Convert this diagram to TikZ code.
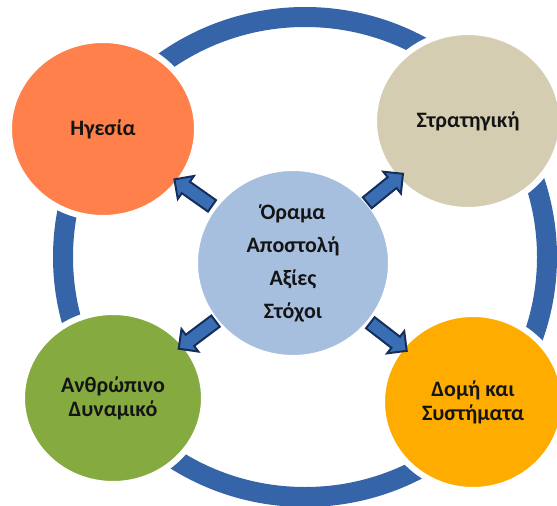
\documentclass[tikz,border=0pt]{standalone}
\usepackage{fontspec}
\setmainfont{Carlito}
\usetikzlibrary{shapes,arrows,positioning}

\tikzset{
  disc/.style={ellipse, draw=white, line width=6pt, inner sep=0pt, align=center,
    text=textColor, font=\fontsize{22}{24}\selectfont\bfseries},
  blockArrow/.style={single arrow, fill=arrowColor, draw=arrowEdge, line width=2pt,
    inner sep=6pt, minimum height=46pt, single arrow head extend=7pt,
    sloped, allow upside down}
}

\begin{document}
\begin{tikzpicture}[x=1pt,y=-1pt]
\useasboundingbox (0,0) rectangle (557,506);
\definecolor{ringColor}{RGB}{53,101,168}
\definecolor{leadColor}{RGB}{255,128,74}
\definecolor{stratColor}{RGB}{212,205,178}
\definecolor{peopleColor}{RGB}{132,170,64}
\definecolor{systColor}{RGB}{255,172,0}
\definecolor{visionColor}{RGB}{167,191,222}
\definecolor{arrowColor}{RGB}{58,110,180}
\definecolor{arrowEdge}{RGB}{20,45,90}
\definecolor{textColor}{RGB}{20,20,20}
% outer ring
\draw[ringColor, line width=20pt] (305,257) ellipse [x radius=242pt, y radius=240pt];
% circles
\node[disc, fill=leadColor, minimum width=188pt, minimum height=178pt] (lead) at (103,129) {Ηγεσία};
\node[disc, fill=stratColor, minimum width=188pt, minimum height=178pt] (strategy) at (468,121) {Στρατηγική};
\node[disc, fill=peopleColor, minimum width=182pt, minimum height=172pt] (people) at (113,398) {Ανθρώπινο\\Δυναμικό};
\node[disc, fill=systColor, minimum width=182pt, minimum height=176pt] (systems) at (473,402) {Δομή και\\Συστήματα};
\node[disc, fill=visionColor, minimum width=196pt, minimum height=190pt,
  font=\fontsize{22}{33}\selectfont\bfseries] (vision) at (293,263) {Όραμα\\Αποστολή\\Αξίες\\Στόχοι};
% arrows
\foreach \target in {lead,strategy,people,systems}
  \path (vision) -- node[blockArrow, pos=0.5] {} (\target);
\end{tikzpicture}
\end{document}
